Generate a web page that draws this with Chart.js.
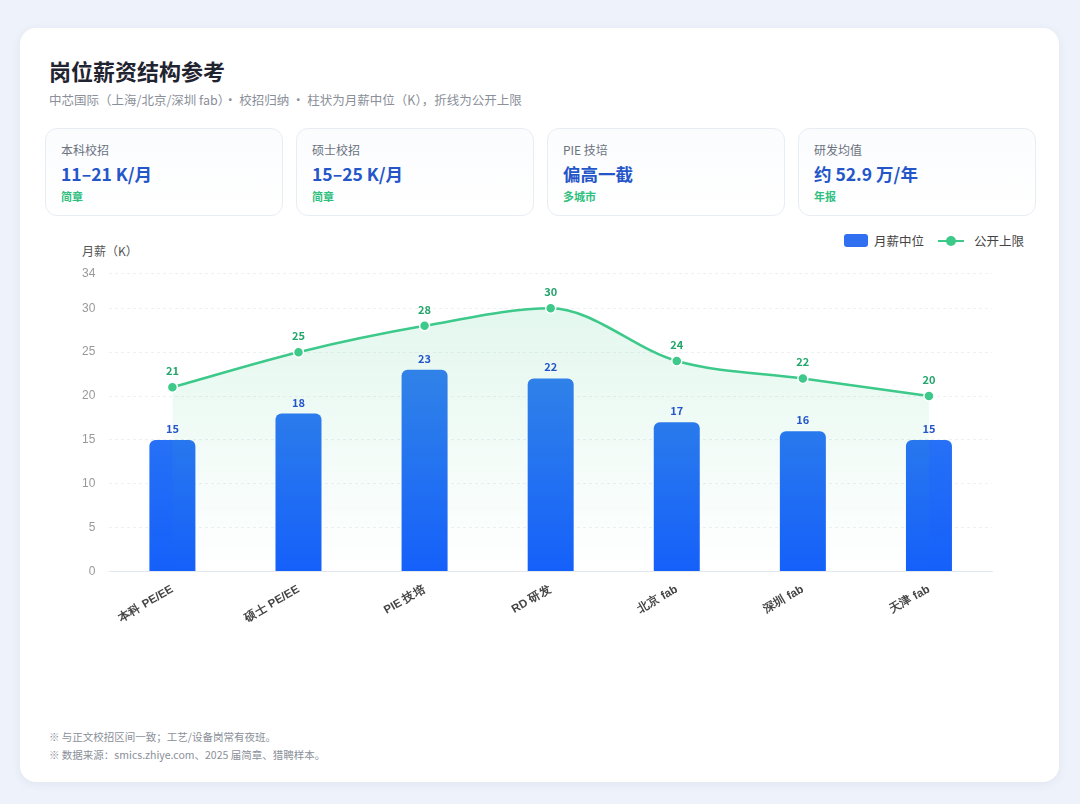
<!DOCTYPE html>
<html><head><meta charset="utf-8">
<script src="https://cdn.jsdelivr.net/npm/chart.js@4.4.1/dist/chart.umd.min.js"></script>
<style>
body{margin:0;width:1080px;height:804px;background:#eef2fa;font-family:"Noto Sans CJK SC","Noto Sans",sans-serif;overflow:hidden}
.card{position:absolute;left:20px;top:28px;width:1039px;height:754px;background:#fff;border-radius:16px;box-shadow:0 2px 10px rgba(60,80,140,.08)}
h1{position:absolute;left:29px;top:26px;margin:0;font-size:22px;font-weight:700;color:#1f2430}
.sub{position:absolute;left:29px;top:62px;font-size:12.5px;color:#8a8f99}
.kpi{position:absolute;top:100px;width:238px;height:88px;border:1px solid #e8ecf3;border-radius:12px;background:linear-gradient(#fbfcfe,#fff);box-sizing:border-box;padding:12px 15px}
.kpi .l{font-size:12px;color:#6b7280}
.kpi .v{font-size:17.5px;font-weight:700;color:#2456c9;margin-top:3px}
.kpi .s{font-size:11px;color:#2fbf7f;font-weight:600;margin-top:2px}
.ylab{position:absolute;left:62px;top:214px;font-size:12px;color:#555}
.legend{position:absolute;right:35px;top:203px;font-size:12.5px;color:#444;display:flex;align-items:center;gap:6px}
.sw{width:24px;height:13px;border-radius:3px;background:#2f6ff0;display:inline-block}
.ln{position:relative;width:26px;height:2px;background:#3cc98a;display:inline-block;margin-left:8px}
.ln:after{content:"";position:absolute;left:8px;top:-4px;width:10px;height:10px;border-radius:50%;background:#3cc98a}
#wrap{position:absolute;left:25px;top:224px;width:990px;height:376px}
.foot{position:absolute;left:29px;font-size:10.5px;color:#8a8f99}
</style></head><body>
<div class="card">
<h1>岗位薪资结构参考</h1>
<div class="sub">中芯国际（上海/北京/深圳 fab）· 校招归纳 · 柱状为月薪中位（K），折线为公开上限</div>
<div class="kpi" style="left:25px"><div class="l">本科校招</div><div class="v">11–21 K/月</div><div class="s">简章</div></div>
<div class="kpi" style="left:276px"><div class="l">硕士校招</div><div class="v">15–25 K/月</div><div class="s">简章</div></div>
<div class="kpi" style="left:527px"><div class="l">PIE 技培</div><div class="v">偏高一截</div><div class="s">多城市</div></div>
<div class="kpi" style="left:778px"><div class="l">研发均值</div><div class="v">约 52.9 万/年</div><div class="s">年报</div></div>
<div class="ylab">月薪（K）</div>
<div class="legend"><span class="sw"></span>月薪中位<span class="ln"></span><span style="margin-left:4px">公开上限</span></div>
<div id="wrap"><canvas id="c"></canvas></div>
<div class="foot" style="top:701px">※ 与正文校招区间一致；工艺/设备岗常有夜班。</div>
<div class="foot" style="top:719px">※ 数据来源：smics.zhiye.com、2025 届简章、猎聘样本。</div>
</div>
<script>
const categories = ['本科 PE/EE', '硕士 PE/EE', 'PIE 技培', 'RD 研发', '北京 fab', '深圳 fab', '天津 fab'];
const medianPay = [15, 18, 23, 22, 17, 16, 15];
const upperPay = [21, 25, 28, 30, 24, 22, 20];

const labelPlugin = {
    id: 'valueLabels',
    afterDatasetsDraw(chart) {
        const ctx = chart.ctx;
        ctx.save();
        ctx.textAlign = 'center';
        ctx.font = '600 11px "Noto Sans CJK SC", sans-serif';
        chart.data.datasets.forEach((ds, di) => {
            const meta = chart.getDatasetMeta(di);
            ctx.fillStyle = di === 0 ? '#2456c9' : '#23a56b';
            meta.data.forEach((el, i) => {
                ctx.fillText(ds.data[i], el.x, el.y - (di === 0 ? 7 : 12));
            });
        });
        ctx.restore();
    }
};

const ctx = document.getElementById('c').getContext('2d');
new Chart(ctx, {
    data: {
        labels: categories,
        datasets: [
            {
                type: 'bar',
                label: '月薪中位',
                data: medianPay,
                order: 2,
                backgroundColor: (c) => {
                    const a = c.chart.chartArea;
                    if (!a) return '#2f6ff0';
                    const g = c.chart.ctx.createLinearGradient(0, a.top, 0, a.bottom);
                    g.addColorStop(0, '#3b86f0');
                    g.addColorStop(1, '#1560fa');
                    return g;
                },
                borderRadius: { topLeft: 6, topRight: 6 },
                borderSkipped: 'bottom',
                maxBarThickness: 46
            },
            {
                type: 'line',
                label: '公开上限',
                data: upperPay,
                order: 1,
                borderColor: '#3cc98a',
                borderWidth: 2.5,
                pointBackgroundColor: '#3cc98a',
                pointBorderColor: '#fff',
                pointBorderWidth: 1.5,
                pointRadius: 5,
                tension: 0.4,
                cubicInterpolationMode: 'monotone',
                fill: 'origin',
                backgroundColor: (c) => {
                    const a = c.chart.chartArea;
                    if (!a) return 'rgba(60,201,138,0.1)';
                    const g = c.chart.ctx.createLinearGradient(0, a.top, 0, a.bottom);
                    g.addColorStop(0, 'rgba(60,201,138,0.16)');
                    g.addColorStop(1, 'rgba(60,201,138,0)');
                    return g;
                }
            }
        ]
    },
    options: {
        responsive: true,
        maintainAspectRatio: false,
        animation: false,
        layout: { padding: { left: 23, right: 43, top: 8 } },
        plugins: { legend: { display: false }, tooltip: { enabled: false } },
        scales: {
            x: {
                grid: { display: false },
                border: { color: '#e3e7ee' },
                ticks: {
                    color: '#444',
                    font: { size: 11.5, weight: '600' },
                    maxRotation: 30, minRotation: 30
                }
            },
            y: {
                min: 0, max: 34,
                ticks: { stepSize: 5, color: '#999', font: { size: 12 }, padding: 14 },
                border: { display: false, dash: [3, 3] },
                grid: { color: '#eef0f4', drawTicks: false }
            }
        }
    },
    plugins: [labelPlugin]
});
</script>
</body></html>
